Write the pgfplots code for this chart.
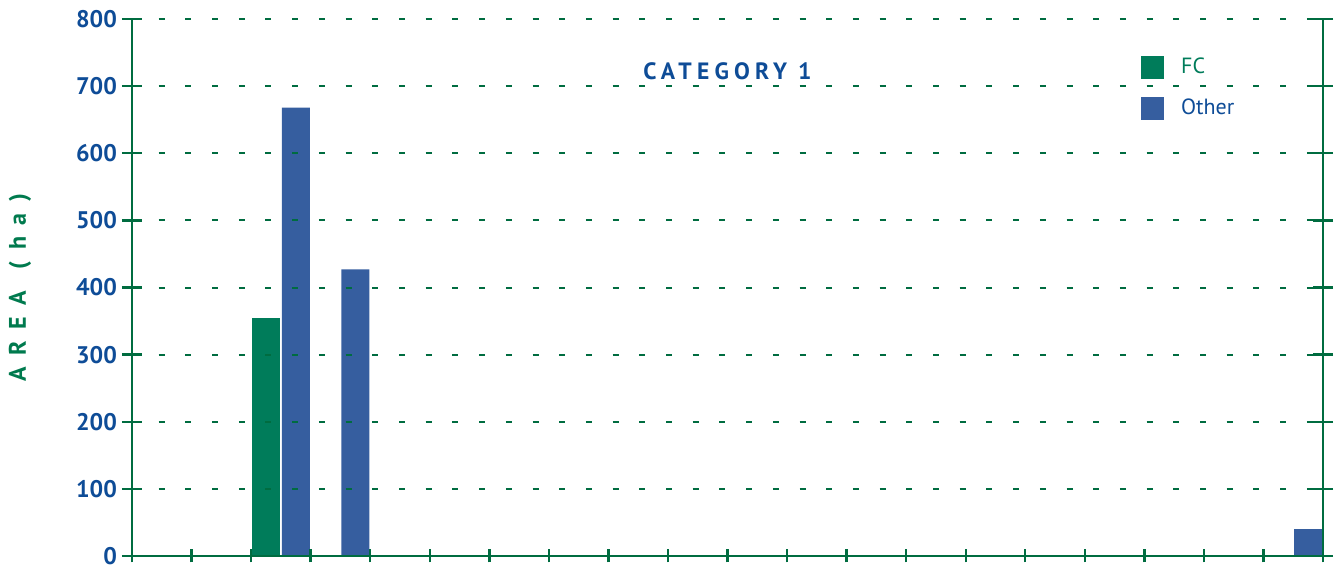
\documentclass[border=0pt]{standalone}
\usepackage{fontspec}
\setmainfont{PT Sans}
\usepackage{pgfplots}
\pgfplotsset{compat=1.18}
\definecolor{fcgreen}{RGB}{0,124,90}
\definecolor{othblue}{RGB}{54,94,159}
\definecolor{axgreen}{RGB}{0,108,64}
\definecolor{lblblue}{RGB}{14,76,151}
\definecolor{ylgreen}{RGB}{0,122,78}
\begin{document}
\begin{tikzpicture}
\begin{axis}[
  name=ax,
  scale only axis,
  width=595.5pt, height=268.5pt,
  xmin=0, xmax=20, ymin=0, ymax=800,
  ybar=1pt, bar width=14pt,
  axis on top,
  axis x line=bottom, axis y line=box,
  axis line style={draw=axgreen, line width=1.2pt, -},
  xtick=\empty,
  extra x ticks={0,...,20},
  extra x tick labels={},
  extra x tick style={major tick length=6.5pt, tick align=center},
  ytick={0,100,...,800},
  tick align=center,
  major tick length=10pt,
  tick style={axgreen, line width=1.2pt},
  ymajorgrids,
  major grid style={axgreen, line width=1pt, dash pattern=on 3pt off 10.35pt},
  /pgf/number format/assume math mode=true,
  yticklabel style={font=\bfseries\fontsize{12}{14}\selectfont, text=lblblue, xshift=1pt},
  ylabel={\addfontfeature{LetterSpace=48}AREA \,(ha)},
  ylabel style={at={(axis description cs:-0.094,0.5)}, anchor=center, rotate=0,
    font=\bfseries\fontsize{12}{14}\selectfont, text=ylgreen},
  title={\addfontfeature{LetterSpace=22}CATEGORY 1},
  title style={at={(axis description cs:0.5,0.881)}, anchor=center,
    font=\bfseries\fontsize{11.8}{13}\selectfont, text=lblblue},
  legend image code/.code={\fill[#1] (0pt,-5.75pt) rectangle (11.5pt,5.75pt);},
  legend style={at={(axis description cs:0.847,0.935)}, anchor=north west,
    draw=none, fill=none, inner sep=0pt, row sep=7pt,
    font=\fontsize{11}{13}\selectfont, cells={anchor=west},
    /tikz/every odd column/.style={column sep=6.5pt}},
]
\addplot[fill=fcgreen, draw=none] coordinates {(2.5,355)};
\addplot[fill=othblue, draw=none] coordinates {(2.5,668) (3.5,427) (19.5,40)};
\legend{\textcolor{fcgreen}{FC}, \textcolor{lblblue}{Other}}
\end{axis}
\pgfresetboundingbox
\path ([xshift=-66pt,yshift=-8pt]ax.south west) rectangle ([xshift=7pt,yshift=9.5pt]ax.north east);
\end{tikzpicture}
\end{document}
